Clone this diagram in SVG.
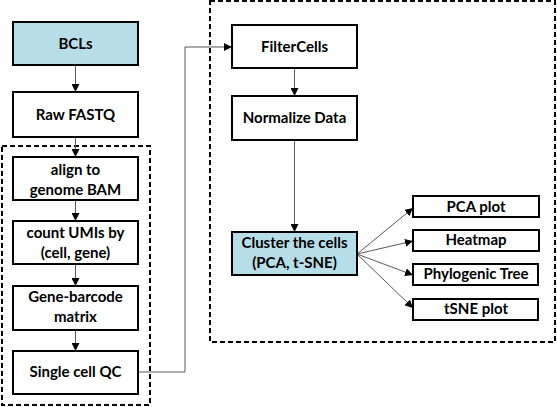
<svg xmlns="http://www.w3.org/2000/svg" width="557" height="407" viewBox="0 0 557 407">
<style>
.box{fill:#fff;stroke:#000;stroke-width:2}
.blue{fill:#b7dde8}
.grp{fill:none;stroke:#000;stroke-width:2;stroke-dasharray:5,3}
.t{font-family:Lato,"Open Sans","Liberation Sans",sans-serif;font-weight:bold;font-size:15px;text-anchor:middle;fill:#000}
.c{fill:none;stroke:#595959;stroke-width:1}
</style>
<defs>
<marker id="ah" viewBox="0 0 10 10" refX="10" refY="5" markerWidth="8" markerHeight="8" markerUnits="userSpaceOnUse" orient="auto">
<path d="M0,0 L10,5 L0,10 z" fill="#000"/>
</marker>
</defs>
<rect id="group-left" class="grp" x="2" y="146" width="148" height="259"/>
<rect id="group-right" class="grp" x="210" y="1" width="345" height="341"/>
<g id="connectors">
<line class="c" x1="75.5" y1="65" x2="75.5" y2="92" marker-end="url(#ah)"/>
<line class="c" x1="75.5" y1="137" x2="75.5" y2="157" marker-end="url(#ah)"/>
<line class="c" x1="75.5" y1="200" x2="75.5" y2="221" marker-end="url(#ah)"/>
<line class="c" x1="75.5" y1="264" x2="75.5" y2="286" marker-end="url(#ah)"/>
<line class="c" x1="75.5" y1="330" x2="75.5" y2="351" marker-end="url(#ah)"/>
<polyline class="c" points="138,372 185,372 185,47 232,47" marker-end="url(#ah)"/>
<line class="c" x1="294.5" y1="68" x2="294.5" y2="96" marker-end="url(#ah)"/>
<line class="c" x1="294.5" y1="140" x2="294.5" y2="232" marker-end="url(#ah)"/>
<line class="c" x1="357" y1="254" x2="413" y2="208" marker-end="url(#ah)"/>
<line class="c" x1="357" y1="254" x2="413" y2="241" marker-end="url(#ah)"/>
<line class="c" x1="357" y1="254" x2="413" y2="275" marker-end="url(#ah)"/>
<line class="c" x1="357" y1="254" x2="413" y2="308" marker-end="url(#ah)"/>
</g>
<g id="bcls"><rect class="box blue" x="13" y="22" width="125" height="43"/><text class="t" x="75.5" y="49">BCLs</text></g>
<g id="raw-fastq"><rect class="box" x="13" y="92" width="125" height="45"/><text class="t" x="75.5" y="120">Raw FASTQ</text></g>
<g id="align"><rect class="box" x="13" y="157" width="125" height="43"/><text class="t" x="75.5" y="175">align to</text><text class="t" x="75.5" y="195">genome BAM</text></g>
<g id="count-umis"><rect class="box" x="13" y="221" width="125" height="43"/><text class="t" x="75.5" y="238">count UMIs by</text><text class="t" x="75.5" y="258">(cell, gene)</text></g>
<g id="gene-barcode"><rect class="box" x="13" y="286" width="125" height="44"/><text class="t" x="75.5" y="302">Gene-barcode</text><text class="t" x="75.5" y="322">matrix</text></g>
<g id="single-cell-qc"><rect class="box" x="13" y="351" width="125" height="43"/><text class="t" x="75.5" y="377">Single cell QC</text></g>
<g id="filtercells"><rect class="box" x="232" y="25" width="125" height="43"/><text class="t" x="294.5" y="52">FilterCells</text></g>
<g id="normalize"><rect class="box" x="232" y="96" width="125" height="44"/><text class="t" x="294.5" y="123">Normalize Data</text></g>
<g id="cluster"><rect class="box blue" x="232" y="232" width="125" height="43"/><text class="t" x="294.5" y="248">Cluster the cells</text><text class="t" x="294.5" y="268">(PCA, t-SNE)</text></g>
<g id="pca-plot"><rect class="box" x="413" y="196" width="126" height="21"/><text class="t" x="476" y="212">PCA plot</text></g>
<g id="heatmap"><rect class="box" x="413" y="230" width="126" height="21"/><text class="t" x="476" y="245">Heatmap</text></g>
<g id="phylo"><rect class="box" x="413" y="264" width="125" height="21"/><text class="t" x="476" y="279">Phylogenic Tree</text></g>
<g id="tsne-plot"><rect class="box" x="413" y="299" width="125" height="21"/><text class="t" x="476" y="314">tSNE plot</text></g>
</svg>
